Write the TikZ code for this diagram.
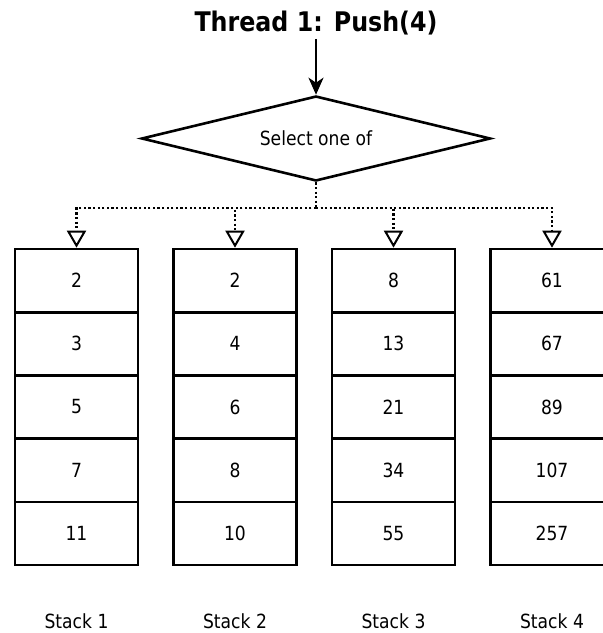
\documentclass[tikz,border=0pt]{standalone}
\usepackage{fontspec}
\setmainfont{DejaVu Sans}[FakeStretch=0.88]
\usetikzlibrary{shapes.geometric,arrows.meta}
\begin{document}
\begin{tikzpicture}[x=1pt,y=1pt,
  txt/.style={font=\fontsize{19.5}{21}\selectfont},
  cell/.style={txt, draw, line width=2.6pt, minimum width=123pt, minimum height=63.2pt, inner sep=0pt},
  lbl/.style={txt, anchor=base},
  dotline/.style={line width=2.4pt, dash pattern=on 2.2pt off 2.4pt},
  dots/.style={dotline, -{Triangle[open, length=17pt, width=19pt, line width=2pt]}}
]
\useasboundingbox (0,0) rectangle (603,-633);
\clip (0,0) rectangle (603,-633);
\node[font=\fontsize{27}{29}\selectfont\bfseries, anchor=base, inner sep=0pt] (title) at (316,-31) {Thread 1: Push(4)};
\node[txt, diamond, draw, line width=2.6pt, aspect=4, minimum width=349pt, minimum height=85pt, inner sep=0pt] (sel) at (316,-138.5) {Select one of};
\draw[line width=2.4pt, -{Stealth[length=17pt, width=15pt, inset=5pt]}] ([yshift=-4pt]title.south) -- (sel.north);
\foreach \c/\x/\vals in {1/76.5/{2,3,5,7,11}, 2/235/{2,4,6,8,10}, 3/393.5/{8,13,21,34,55}, 4/552/{61,67,89,107,257}} {
  \foreach \v [count=\r] in \vals {
    \node[cell] (s\c-\r) at (\x, {-249-31.6-63.2*(\r-1)}) {\v};
  }
  \node[lbl] (l\c) at (\x,-628) {Stack \c};
}
\coordinate (j) at (316,-208);
\draw[dotline] (sel.south) -- (j);
\foreach \c in {1,2,3,4} {
  \draw[dots] (j) -| (s\c-1.north);
}
\end{tikzpicture}
\end{document}
